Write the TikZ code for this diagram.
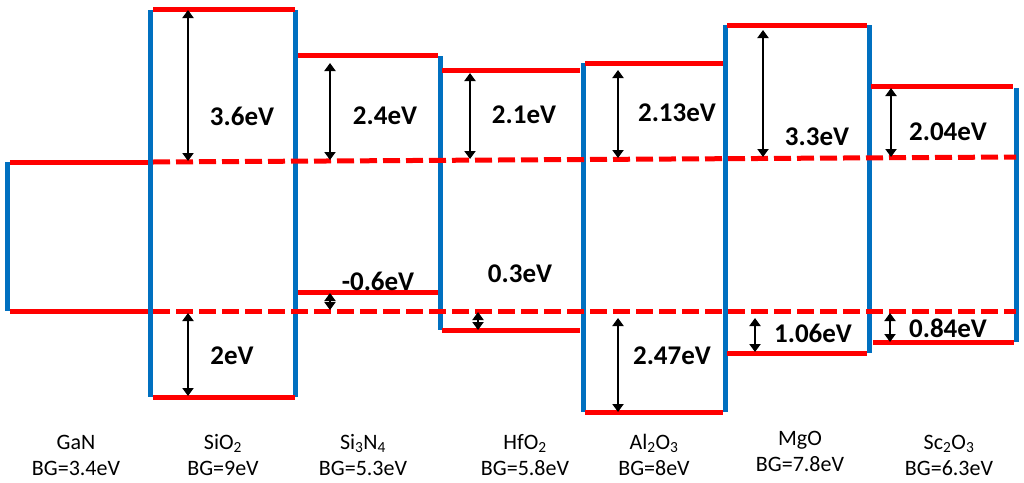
\documentclass[tikz,border=0pt]{standalone}
\usepackage{fontspec}
\setmainfont{Carlito}
\usetikzlibrary{arrows.meta}
\definecolor{BandRed}{RGB}{255,0,0}
\definecolor{BarBlue}{RGB}{0,112,192}
\tikzset{
  band/.style={draw=BandRed,line width=5pt},
  banddash/.style={band,dash pattern=on 17pt off 6pt},
  bar/.style={draw=BarBlue,line width=5pt},
  offset/.style={{Triangle[length=8pt,width=11pt]}-{Triangle[length=8pt,width=11pt]},
    line width=2pt,draw=black},
  evlabel/.style={font=\fontsize{27}{30}\selectfont\bfseries,inner sep=0pt},
  matlabel/.style={font=\fontsize{22}{26}\selectfont,align=center,inner sep=0pt},
}

\begin{document}
\begin{tikzpicture}[x=1pt,y=-1pt]
  \useasboundingbox (0,0) rectangle (1024,482);
  % interfaces
  \draw[bar] (7,162) -- (7,311);
  \draw[bar] (150,10) -- (150,397);
  \draw[bar] (295,10) -- (295,397);
  \draw[bar] (440,56) -- (440,330);
  \draw[bar] (583,63) -- (583,412);
  \draw[bar] (725,25) -- (725,412);
  \draw[bar] (869,25) -- (869,353);
  \draw[bar] (1016,88) -- (1016,342);
  % band edges
  \draw[band] (10,162) -- (148,162);
  \draw[band] (10,311) -- (148,311);
  \draw[band] (153,9) -- (295,9);
  \draw[band] (153,397) -- (295,397);
  \draw[band] (298,55) -- (438,55);
  \draw[band] (298,292) -- (438,292);
  \draw[band] (442,70) -- (580,70);
  \draw[band] (442,330) -- (580,330);
  \draw[band] (585,63) -- (723,63);
  \draw[band] (585,412) -- (723,412);
  \draw[band] (727,25) -- (867,25);
  \draw[band] (727,353) -- (867,353);
  \draw[band] (871,86) -- (1013,86);
  \draw[band] (873,342) -- (1014,342);
  % GaN reference levels
  \draw[banddash] (153,162) -- (1016,157);
  \draw[banddash] (153,311) -- (1016,311);
  % offsets
  \coordinate (sioCt) at (188,10);   \coordinate (sioCb) at (188,161);
  \coordinate (sioVt) at (188,313);  \coordinate (sioVb) at (188,396);
  \coordinate (sinCt) at (330,63);   \coordinate (sinCb) at (330,160);
  \coordinate (sinVt) at (330,293);  \coordinate (sinVb) at (330,310);
  \coordinate (hfoCt) at (470,73);   \coordinate (hfoCb) at (470,159);
  \coordinate (hfoVt) at (478,312);  \coordinate (hfoVb) at (478,330);
  \coordinate (aloCt) at (618,70);   \coordinate (aloCb) at (618,158);
  \coordinate (aloVt) at (618,318);  \coordinate (aloVb) at (618,412);
  \coordinate (mgoCt) at (763,30);   \coordinate (mgoCb) at (763,157);
  \coordinate (mgoVt) at (755,318);  \coordinate (mgoVb) at (755,352);
  \coordinate (scoCt) at (891,88);   \coordinate (scoCb) at (891,157);
  \coordinate (scoVt) at (890,313);  \coordinate (scoVb) at (890,342);
  \draw[offset] (sioCt) -- (sioCb);
  \draw[offset] (sioVt) -- (sioVb);
  \draw[offset] (sinCt) -- (sinCb);
  \draw[offset] (sinVt) -- (sinVb);
  \draw[offset] (hfoCt) -- (hfoCb);
  \draw[offset] (hfoVt) -- (hfoVb);
  \draw[offset] (aloCt) -- (aloCb);
  \draw[offset] (aloVt) -- (aloVb);
  \draw[offset] (mgoCt) -- (mgoCb);
  \draw[offset] (mgoVt) -- (mgoVb);
  \draw[offset] (scoCt) -- (scoCb);
  \draw[offset] (scoVt) -- (scoVb);
  % offset values
  \node[evlabel] (sioC) at (242,116) {3.6eV};
  \node[evlabel] (sioV) at (232,356) {2eV};
  \node[evlabel] (sinC) at (385,116) {2.4eV};
  \node[evlabel] (sinV) at (378,281) {-0.6eV};
  \node[evlabel] (hfoC) at (524,115) {2.1eV};
  \node[evlabel] (hfoV) at (520,274) {0.3eV};
  \node[evlabel] (aloC) at (677,113) {2.13eV};
  \node[evlabel] (aloV) at (672,356) {2.47eV};
  \node[evlabel] (mgoC) at (817,137) {3.3eV};
  \node[evlabel] (mgoV) at (813,333) {1.06eV};
  \node[evlabel] (scoC) at (948,132) {2.04eV};
  \node[evlabel] (scoV) at (948,328) {0.84eV};
  % materials
  \node[matlabel] (gan) at (76,455) {GaN\\BG=3.4eV};
  \node[matlabel] (sio) at (223,455) {SiO\textsubscript{2}\\BG=9eV};
  \node[matlabel] (sin) at (363,455) {Si\textsubscript{3}N\textsubscript{4}\\BG=5.3eV};
  \node[matlabel] (hfo) at (525,455) {HfO\textsubscript{2}\\BG=5.8eV};
  \node[matlabel] (alo) at (654,455) {Al\textsubscript{2}O\textsubscript{3}\\BG=8eV};
  \node[matlabel] (mgo) at (800,451) {MgO\\BG=7.8eV};
  \node[matlabel] (sco) at (949,455) {Sc\textsubscript{2}O\textsubscript{3}\\BG=6.3eV};
\end{tikzpicture}
\end{document}
